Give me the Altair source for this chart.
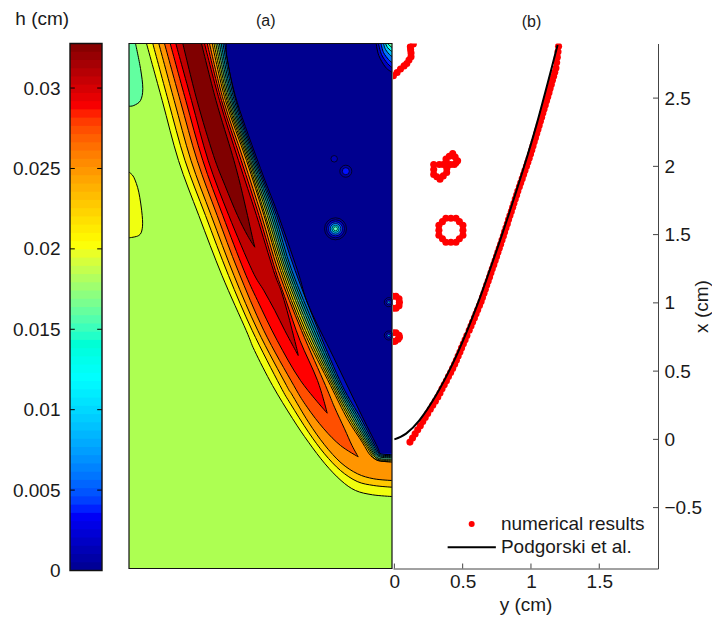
import altair as alt
import pandas as pd

FONT = "Liberation Sans"
FS = 19
INK = "#1a1a1a"
CURVE = "cardinal"

# ---------- colour bar ----------
BAR_TOP = 0.03277
N_LEVELS = 64
bar_ticks = [0, 0.005, 0.01, 0.015, 0.02, 0.025, 0.03]
jet_stops = [0, 0.11, 0.365, 0.62, 0.875, 1]
jet_colors = ["#00008f", "#0000ff", "#00ffff", "#ffff00", "#ff0000", "#800000"]

# ---------- contour panel, mesh coordinates ----------
MESH_X = [128.5, 392.0]
MESH_Y = [568.0, 43.0]
EDGE = 391.5

BG = "#adff52"
blob_teal_y = [43, 68, 88, 100, 105, 105.7]
blob_teal_x = [135, 140, 142.3, 140, 133.3, 128.5]
blob_yel_y = [171.7, 176.7, 191.7, 215, 228.3, 235, 237.3]
blob_yel_x = [128.5, 133.3, 138.3, 141.7, 141.7, 138.3, 128.5]

# outer boundaries that run down to the right edge
l1_y = [43, 100, 160, 215, 275, 330, 350, 385, 418, 441.7, 463.3, 480, 490, 494.3, 496]
l1_x = [146, 161.7, 178, 198.3, 221.5, 245.7, 254, 272, 292, 308, 324.5, 340.5, 355, 372, EDGE]
l2_y = [43, 100, 160, 215, 275, 330, 385, 403.3, 431.7, 453.3, 470, 481, 485, 486.7]
l2_x = [152.3, 167.7, 184.5, 205, 228, 251.7, 279.5, 290, 308, 324, 340, 356.7, 373.3, EDGE]
l3_y = [43, 100, 160, 215, 275, 330, 385, 393.3, 421.7, 444.3, 462.3, 473.3, 478.3, 480]
l3_x = [158.3, 173.7, 190.5, 210.7, 233.5, 257.3, 286, 291, 308, 324, 340.5, 357, 373.3, EDGE]

# closed ridges: rows, left boundary, right boundary
dk_y = [43, 100, 160, 215, 270, 330, 385, 406.7, 428.3, 445, 456.3]
dk_l = [164, 179.7, 196.7, 216.7, 237.5, 263.3, 293.3, 306.7, 323.3, 340, 357.7]
dk_r = [209, 223, 243.3, 261, 277.7, 301, 325, 334, 344, 351.5, 357.7]
red_y = [43, 100, 160, 215, 270, 300, 340, 380, 412.7]
red_l = [169.7, 185.3, 202.3, 222.3, 243.5, 257, 276.7, 300, 326.7]
red_r = [206.7, 221, 240.7, 258.5, 275, 285.5, 299.5, 317, 326.7]
cr_y = [43, 100, 160, 215, 270, 290, 310, 330, 350, 355]
cr_l = [175.3, 191, 207.7, 228.3, 251.7, 263.3, 274.3, 284.3, 295, 297.7]
cr_r = [204, 219, 238, 256, 273, 280.5, 286.5, 291.7, 296.7, 297.7]
mr_y = [43, 100, 155, 185, 215, 235, 246.7]
mr_l = [182.3, 196.5, 213, 224.5, 237, 247, 254.3]
mr_r = [201, 215.5, 232, 240, 247, 251.5, 254.3]

# steep front, from the orange side to the dark blue side
r3_y = [43, 100, 160, 215, 270, 330, 385, 418, 441.7, 455, 460, 461.7]
r3_x = [211.7, 225, 246, 263.5, 280, 303, 330, 346.7, 361.7, 370, 378.3, EDGE]
s_rows = [43, 100, 160, 215, 270, 330, 385, 418, 446]
s1_y = s_rows + [459.5, 460.5]
s1_x = [213.5, 226.5, 247.4, 264.9, 281.9, 305.1, 331.7, 348.7, 366, 376, EDGE]
s2_y = s_rows + [458.5, 459.5]
s2_x = [215.3, 227.9, 248.8, 266.8, 283.8, 307.3, 333.3, 350.6, 367.5, 377, EDGE]
s3_y = s_rows + [457.5, 458.5]
s3_x = [217.1, 229.4, 250.1, 268.6, 285.6, 309.4, 335, 352.6, 369, 377.5, EDGE]
s4_y = s_rows + [456, 457]
s4_x = [218.9, 230.9, 251.5, 270.5, 287.5, 311.5, 336.6, 354.5, 370.5, 378, EDGE]
s5_y = s_rows + [455, 456]
s5_x = [220.7, 232.3, 252.9, 272.4, 289.4, 313.6, 338.3, 356.5, 372, 378.5, EDGE]
s6_y = s_rows + [454, 455]
s6_x = [222.5, 233.8, 254.3, 274.3, 291.3, 315.8, 340, 358.4, 373.5, 379, EDGE]
s7_y = s_rows + [453, 454]
s7_x = [224.2, 235.2, 255.6, 276.1, 294.6, 317.9, 341.7, 360.4, 375, 379.5, EDGE]
b_y = [43, 58, 101.7, 168, 211.7, 270, 305, 356.7, 416, 446.7, 452.7]
b_x = [226, 226.5, 236.7, 260, 276.7, 297, 308, 333, 361.7, 377, 378.3]

# corner patch at the top right
c1_y = [43, 55, 66.7, 71.7]
c1_x = [375.7, 378.3, 385, EDGE]
c2_y = [43, 54, 63, 67]
c2_x = [378, 381, 387, EDGE]
c3_y = [43, 52, 59, 62]
c3_x = [380.5, 383, 388, EDGE]
c4_y = [43, 49, 54, 56]
c4_x = [383, 385, 389, EDGE]
c5_y = [43, 47, 50, 51]
c5_x = [385, 387, 390, EDGE]
c6_y = [43, 45, 47]
c6_x = [387, 389, EDGE]

# small islands in the dark blue region
isl_x = [335, 335, 335, 335, 335, 335, 345.3, 345.3, 333.7, 388.3, 388.3, 388.3, 388.3, 388.3, 388.3]
isl_y = [228.3, 228.3, 228.3, 228.3, 228.3, 228.3, 170.7, 170.7, 158.3, 301.7, 301.7, 301.7, 335, 335, 335]
isl_d = [22, 18, 14, 10.5, 7, 4, 12, 7, 6.5, 9, 5.5, 2.5, 9, 5.5, 2.5]
isl_c = ["#000098", "#0000d0", "#0040ff", "#00a0ff", "#00ffff", "#60ffc0", "#00009f", "#0010ff", "#0000b0",
         "#0000b0", "#0010ff", "#00a0ff", "#0000b0", "#0010ff", "#00a0ff"]

# ---------- right panel (cm) ----------
PX_DOM = [-0.01, 1.93]
PY_DOM = [-0.946, 2.90]
y_ticks = [0, 0.5, 1, 1.5]
x_ticks = [-0.5, 0, 0.5, 1, 1.5, 2, 2.5]

pod_y = [0, .086, .183, .305, .427, .524, .615, .685, .795, .922, 1.04, 1.195]
pod_x = [0, .042, .139, .323, .555, .775, 1.007, 1.202, 1.52, 1.911, 2.302, 2.889]

num_x = [-.02, .01, .04, .07, .10, .13, .16, .19, .22, .25, .28, .31, .34, .37, .40, .43, .46, .49, .52, .55,
         .58, .61, .64, .67, .70, .73, .76, .80, .83, .86, .89, .92, .95, .98, 1.01, 1.04, 1.07, 1.10, 1.13, 1.16,
         1.19, 1.22, 1.25, 1.28, 1.31, 1.34, 1.37, 1.40, 1.43, 1.46, 1.49, 1.52, 1.55, 1.58, 1.61, 1.64, 1.67, 1.70,
         1.73, 1.76, 1.79, 1.82, 1.85, 1.88, 1.91, 1.94, 1.97, 2.00, 2.03, 2.06, 2.09, 2.12, 2.15, 2.18, 2.21, 2.24,
         2.27, 2.30, 2.33, 2.36, 2.39, 2.42, 2.45, 2.48, 2.51, 2.54, 2.57, 2.60, 2.63, 2.66, 2.69, 2.72, 2.76, 2.80,
         2.84, 2.88]
num_y = [.114, .133, .152, .171, .190, .208, .226, .244, .263, .281, .300, .318, .334, .349, .365, .381, .396, .412,
         .427, .441, .454, .467, .480, .492, .505, .518, .531, .548, .561, .573, .586, .598, .610, .623, .635, .645,
         .656, .666, .676, .687, .697, .707, .717, .728, .738, .748, .758, .768, .778, .788, .798, .807, .817, .827,
         .836, .846, .856, .866, .875, .885, .895, .904, .915, .925, .936, .946, .956, .967, .977, .987, .997, 1.006,
         1.015, 1.024, 1.033, 1.042, 1.051, 1.060, 1.069, 1.078, 1.087, 1.096, 1.105, 1.114, 1.123, 1.132, 1.140,
         1.149, 1.157, 1.166, 1.174, 1.183, 1.188, 1.193, 1.198, 1.202]

top_y = [-.007, .02, .045, .071, .091, .107, .122, .122, .119, .117, .139]
top_x = [2.664, 2.688, 2.713, 2.736, 2.754, 2.779, 2.803, 2.83, 2.855, 2.876, 2.896]
big_y = [.414, .451, .476, .502, .502, .502, .476, .451, .414, .377, .352, .326, .326, .326, .352, .377]
big_x = [1.620, 1.620, 1.595, 1.569, 1.532, 1.495, 1.470, 1.444, 1.444, 1.444, 1.470, 1.495, 1.532, 1.569, 1.595, 1.620]
left8_y = [.288, .288, .288, .311, .334, .358, .383, .384, .385, .358, .329]
left8_x = [2.014, 1.977, 1.941, 1.924, 1.906, 1.930, 1.955, 1.985, 2.014, 2.014, 2.014]
right8_y = [.427, .445, .463, .451, .439, .412, .385, .380, .378, .402]
right8_x = [2.094, 2.068, 2.041, 2.027, 2.014, 2.014, 2.014, 2.034, 2.053, 2.074]
d_y = [-.01, .012, .034, .037, .034, .012, -.01]
d_x = [1.048, 1.048, 1.03, 1.004, .978, .96, .96]
e_y = [-.01, .012, .034, .037, .027, .005, -.01]
e_x = [.781, .781, .762, .748, .733, .718, .718]

legend_labels = ["numerical results", "Podgorski et al."]
legend_x = [-.62, -.79]
legend_line_y = [.39, .743]
legend_text_y = .78
legend_dot_y = .566

# ---------- colour bar panel ----------
BAR_W = 58.5
bar_dom = [0, BAR_W / 32]
step = BAR_TOP / N_LEVELS
levels = [i * step for i in range(N_LEVELS)]
bar_df = pd.DataFrame({"lo": levels, "hi": [min(v + 2 * step, BAR_TOP) for v in levels],
                       "mid": [(i + .5) / N_LEVELS for i in range(N_LEVELS)], "a": 0.0, "b": 1.0})
bx = alt.Scale(domain=bar_dom, nice=False, zero=False)
by = alt.Scale(domain=[0, BAR_TOP], nice=False, zero=False)
bar_axis = alt.Axis(values=bar_ticks, format="~g", title=None, domain=False, ticks=False, labelPadding=10, grid=False,
                    labelFont=FONT, labelFontSize=FS, labelColor=INK)
bar_cells = alt.Chart(bar_df).mark_rect().encode(
    x=alt.X("a:Q", scale=bx, axis=None), x2="b:Q",
    y=alt.Y("lo:Q", scale=by, axis=bar_axis), y2="hi:Q",
    color=alt.Color("mid:Q", scale=alt.Scale(domain=jet_stops, range=jet_colors), legend=None),
)
tk1 = pd.DataFrame({"v": bar_ticks, "a": 0.0, "b": .15})
tk2 = pd.DataFrame({"v": bar_ticks, "a": .85, "b": 1.0})
bar_t1 = alt.Chart(tk1).mark_rule(color="black", strokeWidth=1).encode(
    y=alt.Y("v:Q", scale=by, axis=bar_axis), x=alt.X("a:Q", scale=bx, axis=None), x2="b:Q")
bar_t2 = alt.Chart(tk2).mark_rule(color="black", strokeWidth=1).encode(
    y=alt.Y("v:Q", scale=by, axis=bar_axis), x=alt.X("a:Q", scale=bx, axis=None), x2="b:Q")
bar_frame = alt.Chart(pd.DataFrame({"a": [0.0], "b": [1.0], "c": [0.0], "d": [BAR_TOP]})).mark_rect(
    fillOpacity=0, stroke="#111111", strokeWidth=1.4).encode(
    x=alt.X("a:Q", scale=bx, axis=None), x2="b:Q", y=alt.Y("c:Q", scale=by, axis=bar_axis), y2="d:Q")
bar_panel = alt.layer(bar_cells, bar_t1, bar_t2, bar_frame).properties(
    width=BAR_W, height=527,
    title=alt.TitleParams("h (cm)", font=FONT, fontSize=FS, fontWeight="normal", color=INK, anchor="middle", dx=-57,
                          offset=13.5))

# ---------- contour panel ----------
mx = alt.Scale(domain=MESH_X, nice=False, zero=False)
my = alt.Scale(domain=MESH_Y, nice=False, zero=False)


def band(rows, left, color, right=None):
    right = right if right is not None else [EDGE] * len(rows)
    d = pd.DataFrame({"y": rows, "l": left, "r": right})
    return alt.Chart(d).mark_area(orient="horizontal", interpolate=CURVE, color=color, clip=True, opacity=1).encode(
        x=alt.X("l:Q", scale=mx, axis=None), x2="r:Q", y=alt.Y("y:Q", scale=my, axis=None))


def edge_line(rows, xs):
    d = pd.DataFrame({"y": rows, "x": xs, "i": list(range(len(rows)))})
    return alt.Chart(d).mark_line(interpolate=CURVE, color="black", strokeWidth=1, clip=True).encode(
        x=alt.X("x:Q", scale=mx, axis=None), y=alt.Y("y:Q", scale=my, axis=None), order="i:Q")


layers = [
    alt.Chart(pd.DataFrame({"a": [MESH_X[0]], "b": [EDGE], "c": [MESH_Y[0]], "d": [MESH_Y[1]]})).mark_rect(color=BG).encode(
        x=alt.X("a:Q", scale=mx, axis=None), x2="b:Q", y=alt.Y("c:Q", scale=my, axis=None), y2="d:Q"),
    band(blob_teal_y, [MESH_X[0]] * 6, "#62ffa0", blob_teal_x),
    band(blob_yel_y, [MESH_X[0]] * 7, "#f0ff10", blob_yel_x),
]
right_fill = [
    (l1_y, l1_x, "#f0ff0f"), (l2_y, l2_x, "#ffc800"), (l3_y, l3_x, "#ff9500"),
]
for r, x, c in right_fill:
    layers.append(band(r, x, c))
for r, a, b, c in [(dk_y, dk_l, dk_r, "#ff4f00"), (red_y, red_l, red_r, "#ff0000"),
                   (cr_y, cr_l, cr_r, "#bf0000"), (mr_y, mr_l, mr_r, "#800000")]:
    layers.append(band(r, a, c, b))
front = [
    (r3_y, r3_x, "#ffc800"), (s1_y, s1_x, "#e0e010"), (s2_y, s2_x, "#90d050"), (s3_y, s3_x, "#50c090"),
    (s4_y, s4_x, "#10b0b0"), (s5_y, s5_x, "#0090c0"), (s6_y, s6_x, "#0060d0"), (s7_y, s7_x, "#0010c0"),
    (b_y, b_x, "#00008f"),
]
for r, x, c in front:
    layers.append(band(r, x, c))
for r, x, c in [(c1_y, c1_x, "#0000c0"), (c2_y, c2_x, "#0020ff"), (c3_y, c3_x, "#0070ff"),
                (c4_y, c4_x, "#00c0ff"), (c5_y, c5_x, "#10ffee"), (c6_y, c6_x, "#62ffa0")]:
    layers.append(band(r, x, c))

for r, x in [(blob_teal_y, blob_teal_x), (blob_yel_y, blob_yel_x), (l1_y, l1_x), (l2_y, l2_x), (l3_y, l3_x),
             (dk_y, dk_l), (dk_y, dk_r), (red_y, red_l), (red_y, red_r), (cr_y, cr_l), (cr_y, cr_r),
             (mr_y, mr_l), (mr_y, mr_r), (r3_y, r3_x), (s1_y, s1_x), (s2_y, s2_x), (s3_y, s3_x), (s4_y, s4_x),
             (s5_y, s5_x), (s6_y, s6_x), (s7_y, s7_x), (b_y, b_x), (c1_y, c1_x), (c2_y, c2_x), (c3_y, c3_x),
             (c4_y, c4_x), (c5_y, c5_x), (c6_y, c6_x)]:
    layers.append(edge_line(r, x))

for xv, yv, dv, cv in zip(isl_x, isl_y, isl_d, isl_c):
    layers.append(alt.Chart(pd.DataFrame({"x": [xv], "y": [yv]})).mark_point(
        filled=True, fill=cv, stroke="black", strokeWidth=0.7, opacity=1, clip=True, shape="circle", size=dv * dv).encode(
        x=alt.X("x:Q", scale=mx, axis=None), y=alt.Y("y:Q", scale=my, axis=None)))
layers.append(alt.Chart(pd.DataFrame({"a": [MESH_X[0]], "b": [EDGE], "c": [MESH_Y[0]], "d": [MESH_Y[1]]})).mark_rect(
    fillOpacity=0, stroke="#111111", strokeWidth=1.2).encode(
    x=alt.X("a:Q", scale=mx, axis=None), x2="b:Q", y=alt.Y("c:Q", scale=my, axis=None), y2="d:Q"))

contour_panel = alt.layer(*layers).properties(
    width=263.5, height=525,
    title=alt.TitleParams("(a)", font=FONT, fontSize=16, fontWeight="normal", color=INK, anchor="middle", dx=5, offset=13.5))

# ---------- curves panel ----------
px = alt.Scale(domain=PX_DOM, nice=False, zero=False)
py = alt.Scale(domain=PY_DOM, nice=False, zero=False)
AX = dict(labelFont=FONT, labelFontSize=FS, labelColor=INK, titleFont=FONT, titleFontSize=FS, titleColor=INK,
          titleFontWeight="normal", domainColor="#444444", domainWidth=1, ticks=False, grid=False, format="~g")
x_ax = alt.Axis(values=y_ticks, title="y (cm)", labelPadding=4, titlePadding=4, labelFlush=False, **AX)
y_ax = alt.Axis(orient="right", values=x_ticks, title="x (cm)", titleAngle=270, labelPadding=6, titlePadding=10, **AX)
ex = alt.X("y:Q", scale=px, axis=x_ax)
ey = alt.Y("x:Q", scale=py, axis=y_ax)

pts = pd.concat([
    pd.DataFrame({"y": a, "x": b}) for a, b in [(num_y, num_x), (top_y, top_x), (big_y, big_x), (left8_y, left8_x),
                                                 (right8_y, right8_x), (d_y, d_x), (e_y, e_x)]
])
red = alt.Chart(pts).mark_circle(color="#ff0000", size=50, opacity=1, clip=True).encode(x=ex, y=ey)
pod = alt.Chart(pd.DataFrame({"y": pod_y, "x": pod_x, "i": list(range(len(pod_y)))})).mark_line(
    color="black", strokeWidth=2, interpolate="cardinal", clip=True).encode(x=ex, y=ey, order="i:Q")
tx = pd.DataFrame({"x": x_ticks, "y": PX_DOM[1] - .0365, "b": PX_DOM[1]})
ty = pd.DataFrame({"y": y_ticks, "x": PY_DOM[0], "b": PY_DOM[0] + .0365})
tick_r = alt.Chart(tx).mark_rule(color="#444444").encode(y=ey, x=ex, x2="b:Q")
tick_b = alt.Chart(ty).mark_rule(color="#444444").encode(x=ex, y=ey, y2="b:Q")
leg_dot = alt.Chart(pd.DataFrame({"y": [legend_dot_y], "x": [legend_x[0]]})).mark_circle(color="#ff0000", size=36, opacity=1).encode(x=ex, y=ey)
leg_line = alt.Chart(pd.DataFrame({"y": legend_line_y, "x": [legend_x[1]] * 2})).mark_line(color="black", strokeWidth=2).encode(x=ex, y=ey)
leg_text = alt.Chart(pd.DataFrame({"y": [legend_text_y] * 2, "x": legend_x, "t": legend_labels})).mark_text(
    align="left", baseline="middle", font=FONT, fontSize=FS, color=INK).encode(x=ex, y=ey, text="t:N")
right_panel = alt.layer(red, pod, tick_r, tick_b, leg_dot, leg_line, leg_text).properties(
    width=265, height=525,
    title=alt.TitleParams("(b)", font=FONT, fontSize=16, fontWeight="normal", color=INK, anchor="middle", dx=6, offset=13.5))

chart = alt.hconcat(bar_panel, contour_panel, right_panel, spacing=0, bounds="flush",
                    padding={"left": 4, "top": 1.5, "right": 0, "bottom": 0}).configure_view(stroke=None)

chart.save("out.html", embed_options={"renderer": "svg", "actions": False})
